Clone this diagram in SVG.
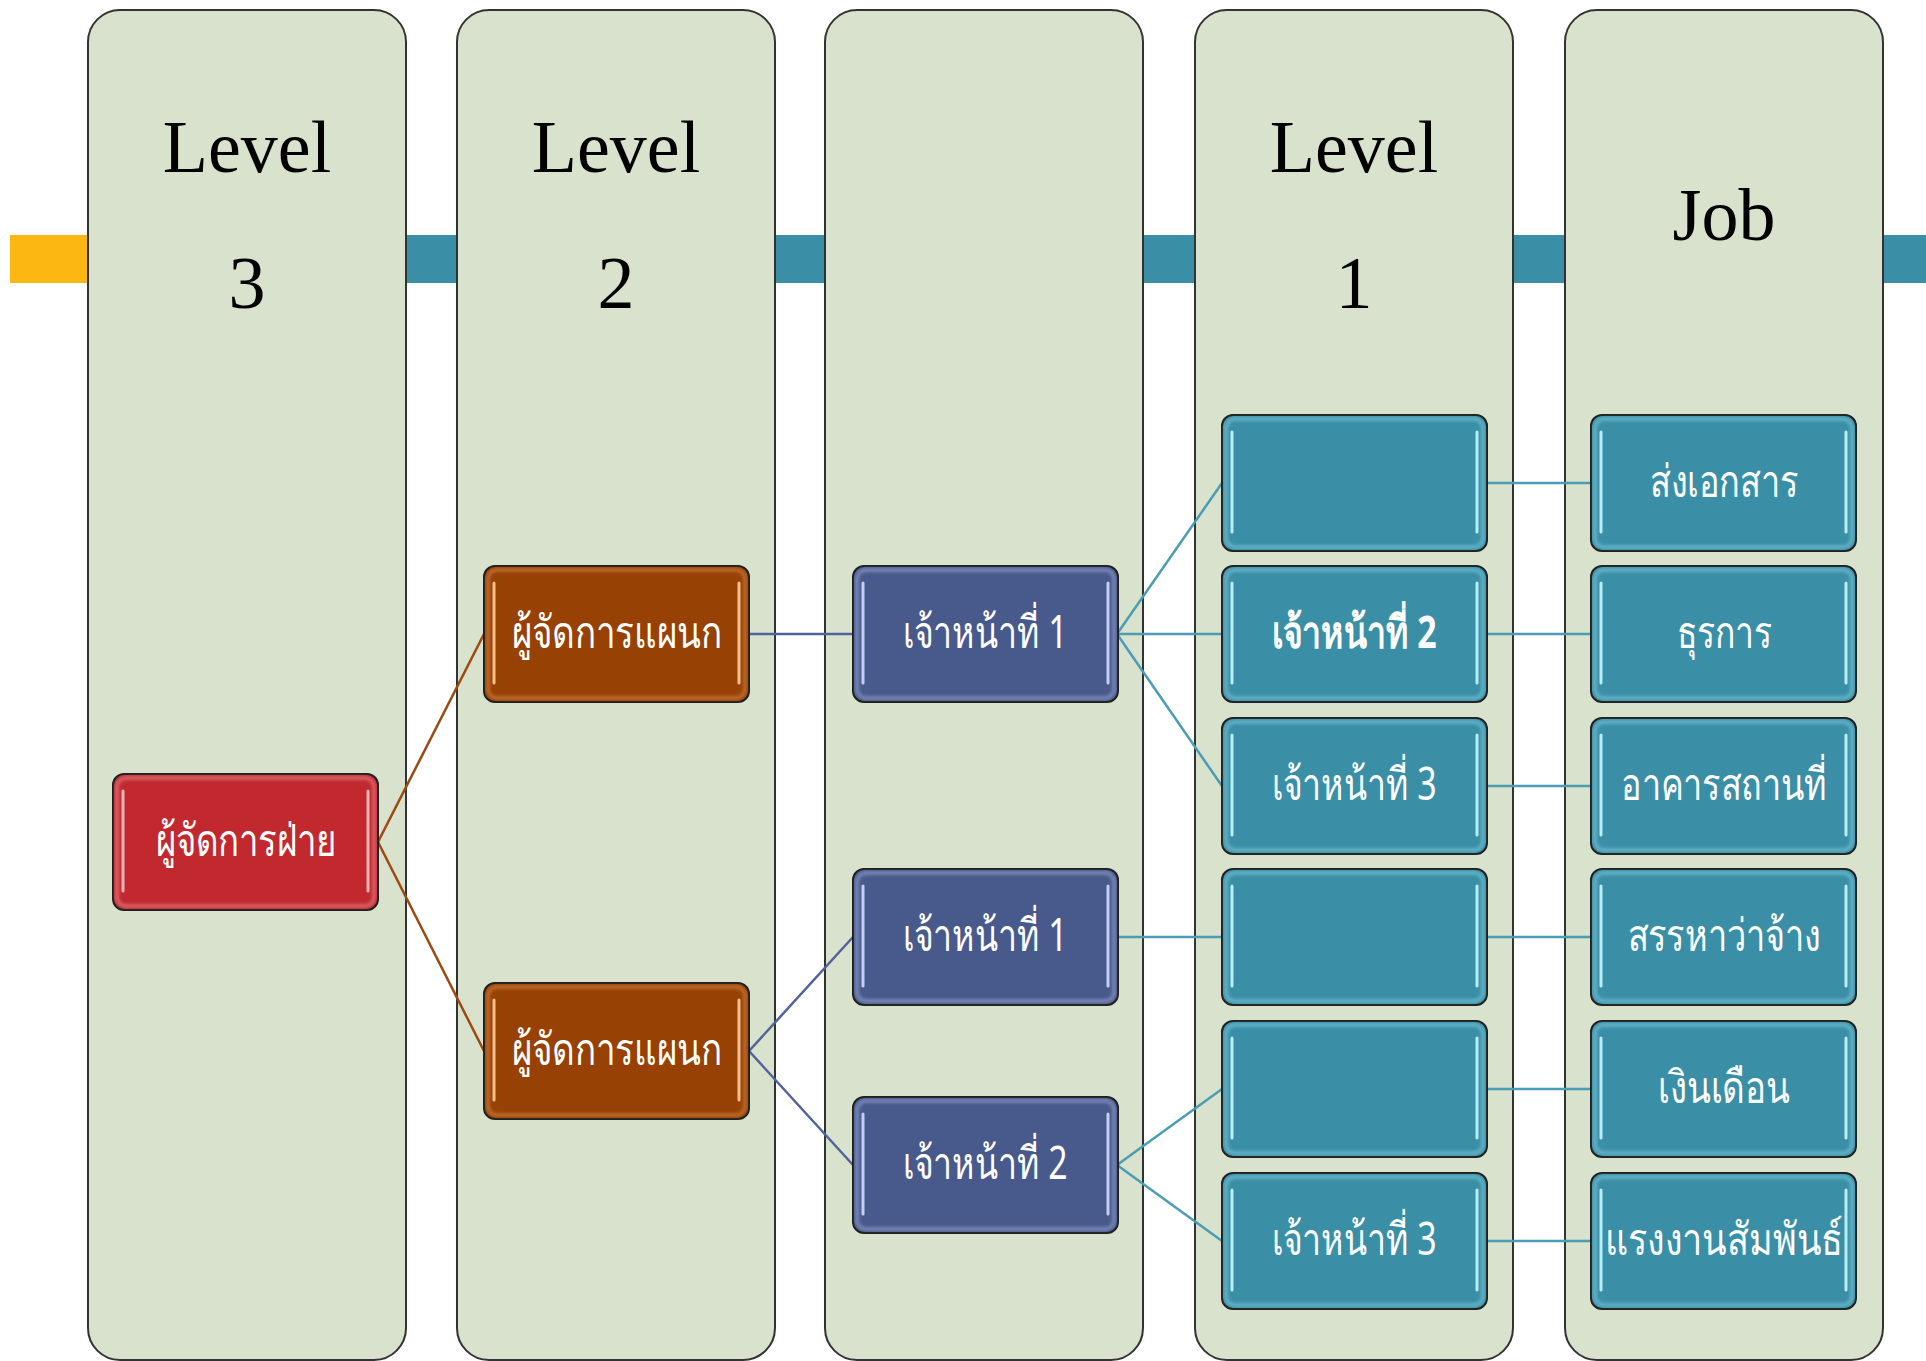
<svg xmlns="http://www.w3.org/2000/svg" width="1926" height="1361" viewBox="0 0 1926 1361">
  <style>
    .col { fill: #D9E2CC; stroke: #333333; stroke-width: 2; }
    .head { font-family: "Liberation Serif", "Times New Roman", serif; font-size: 74px; fill: #000000; text-anchor: middle; }
    .box { fill: var(--bg); stroke: #1E1E1E; stroke-width: 2; }
    .edge { fill: none; stroke: var(--edge); stroke-width: 4; stroke-opacity: 0.45; filter: url(#soft); }
    .shine { fill: none; stroke: var(--shine); stroke-width: 3; stroke-linecap: round; }
    .lbl { font-family: "Noto Sans", "DejaVu Sans", sans-serif; font-size: 45px; fill: #FFFFFF; text-anchor: middle; }
    .red { --bg: #C1292F; --edge: #F3A0A3; --shine: #F7B3B5; }
    .brown { --bg: #974104; --edge: #E89A5C; --shine: #F6C08C; }
    .blue { --bg: #485A8B; --edge: #A9B6E6; --shine: #C4CEF5; }
    .teal { --bg: #3A8FA6; --edge: #8ED8EA; --shine: #B7EEF9; }
    .c-brown { stroke: #9A4A12; } .c-blue { stroke: #52629A; } .c-teal { stroke: #4A9DB3; }
    #connectors line { stroke-width: 2.5; }
  </style>
  <defs>
    <filter id="soft" x="-5%" y="-5%" width="110%" height="110%">
      <feGaussianBlur stdDeviation="1.5"/>
    </filter>
    <!-- glossy rounded box, 265 x 136, drawn at the origin -->
    <g id="shape">
      <rect class="box" x="0" y="0" width="265" height="136" rx="11"/>
      <rect class="edge" x="4" y="4" width="257" height="128" rx="9"/>
      <line class="shine" x1="10" y1="17" x2="10" y2="117"/>
      <line class="shine" x1="255" y1="17" x2="255" y2="117"/>
    </g>
  </defs>

  <!-- horizontal band behind the columns -->
  <g id="band">
    <rect x="10" y="235" width="80" height="48" fill="#FDB713"/>
    <rect x="404" y="235" width="55" height="48" fill="#3A8FA6"/>
    <rect x="773" y="235" width="54" height="48" fill="#3A8FA6"/>
    <rect x="1141" y="235" width="56" height="48" fill="#3A8FA6"/>
    <rect x="1511" y="235" width="56" height="48" fill="#3A8FA6"/>
    <rect x="1881" y="235" width="45" height="48" fill="#3A8FA6"/>
  </g>

  <!-- columns -->
  <g id="col-level3">
    <rect class="col" x="88" y="10" width="318" height="1350" rx="32"/>
    <text class="head" x="247" y="172">Level</text>
    <text class="head" x="247" y="308">3</text>
  </g>
  <g id="col-level2">
    <rect class="col" x="457" y="10" width="318" height="1350" rx="32"/>
    <text class="head" x="616" y="172">Level</text>
    <text class="head" x="616" y="308">2</text>
  </g>
  <g id="col-blank">
    <rect class="col" x="825" y="10" width="318" height="1350" rx="32"/>
  </g>
  <g id="col-level1">
    <rect class="col" x="1195" y="10" width="318" height="1350" rx="32"/>
    <text class="head" x="1354" y="172">Level</text>
    <text class="head" x="1354" y="308">1</text>
  </g>
  <g id="col-job">
    <rect class="col" x="1565" y="10" width="318" height="1350" rx="32"/>
    <text class="head" x="1724" y="240">Job</text>
  </g>

  <!-- connectors -->
  <g id="connectors">
    <line class="c-brown" x1="378" y1="842" x2="484" y2="634"/>
    <line class="c-brown" x1="378" y1="842" x2="484" y2="1051"/>
    <line class="c-blue" x1="749" y1="634" x2="853" y2="634"/>
    <line class="c-blue" x1="749" y1="1051" x2="853" y2="937"/>
    <line class="c-blue" x1="749" y1="1051" x2="853" y2="1165"/>
    <line class="c-teal" x1="1117" y1="634" x2="1222" y2="483"/>
    <line class="c-teal" x1="1117" y1="634" x2="1222" y2="634"/>
    <line class="c-teal" x1="1117" y1="634" x2="1222" y2="786"/>
    <line class="c-teal" x1="1117" y1="937" x2="1222" y2="937"/>
    <line class="c-teal" x1="1117" y1="1165" x2="1222" y2="1089"/>
    <line class="c-teal" x1="1117" y1="1165" x2="1222" y2="1241"/>
    <line class="c-teal" x1="1487" y1="483" x2="1591" y2="483"/>
    <line class="c-teal" x1="1487" y1="634" x2="1591" y2="634"/>
    <line class="c-teal" x1="1487" y1="786" x2="1591" y2="786"/>
    <line class="c-teal" x1="1487" y1="937" x2="1591" y2="937"/>
    <line class="c-teal" x1="1487" y1="1089" x2="1591" y2="1089"/>
    <line class="c-teal" x1="1487" y1="1241" x2="1591" y2="1241"/>
  </g>

  <!-- level 3 -->
  <g id="n-division" class="red">
    <use href="#shape" x="113" y="774"/>
    <text class="lbl" x="246" y="856" textLength="181" lengthAdjust="spacingAndGlyphs">ผู้จัดการฝ่าย</text>
  </g>

  <!-- level 2 -->
  <g id="n-dept-a" class="brown">
    <use href="#shape" x="484" y="566"/>
    <text class="lbl" x="617" y="648" textLength="210" lengthAdjust="spacingAndGlyphs">ผู้จัดการแผนก</text>
  </g>
  <g id="n-dept-b" class="brown">
    <use href="#shape" x="484" y="983"/>
    <text class="lbl" x="617" y="1065" textLength="210" lengthAdjust="spacingAndGlyphs">ผู้จัดการแผนก</text>
  </g>

  <!-- officers under departments -->
  <g id="n-off-a1" class="blue">
    <use href="#shape" x="853" y="566"/>
    <text class="lbl" x="985" y="648" textLength="165" lengthAdjust="spacingAndGlyphs">เจ้าหน้าที่ 1</text>
  </g>
  <g id="n-off-b1" class="blue">
    <use href="#shape" x="853" y="869"/>
    <text class="lbl" x="985" y="951" textLength="165" lengthAdjust="spacingAndGlyphs">เจ้าหน้าที่ 1</text>
  </g>
  <g id="n-off-b2" class="blue">
    <use href="#shape" x="853" y="1097"/>
    <text class="lbl" x="985" y="1179" textLength="165" lengthAdjust="spacingAndGlyphs">เจ้าหน้าที่ 2</text>
  </g>

  <!-- level 1 -->
  <g id="n-l1-1" class="teal">
    <use href="#shape" x="1222" y="415"/>
  </g>
  <g id="n-l1-2" class="teal">
    <use href="#shape" x="1222" y="566"/>
    <text class="lbl" x="1354" y="648" font-weight="bold" textLength="165" lengthAdjust="spacingAndGlyphs">เจ้าหน้าที่ 2</text>
  </g>
  <g id="n-l1-3" class="teal">
    <use href="#shape" x="1222" y="718"/>
    <text class="lbl" x="1354" y="800" textLength="165" lengthAdjust="spacingAndGlyphs">เจ้าหน้าที่ 3</text>
  </g>
  <g id="n-l1-4" class="teal">
    <use href="#shape" x="1222" y="869"/>
  </g>
  <g id="n-l1-5" class="teal">
    <use href="#shape" x="1222" y="1021"/>
  </g>
  <g id="n-l1-6" class="teal">
    <use href="#shape" x="1222" y="1173"/>
    <text class="lbl" x="1354" y="1255" textLength="165" lengthAdjust="spacingAndGlyphs">เจ้าหน้าที่ 3</text>
  </g>

  <!-- jobs -->
  <g id="n-job-1" class="teal">
    <use href="#shape" x="1591" y="415"/>
    <text class="lbl" x="1724" y="497" textLength="148" lengthAdjust="spacingAndGlyphs">ส่งเอกสาร</text>
  </g>
  <g id="n-job-2" class="teal">
    <use href="#shape" x="1591" y="566"/>
    <text class="lbl" x="1724" y="648" textLength="95" lengthAdjust="spacingAndGlyphs">ธุรการ</text>
  </g>
  <g id="n-job-3" class="teal">
    <use href="#shape" x="1591" y="718"/>
    <text class="lbl" x="1724" y="800" textLength="206" lengthAdjust="spacingAndGlyphs">อาคารสถานที่</text>
  </g>
  <g id="n-job-4" class="teal">
    <use href="#shape" x="1591" y="869"/>
    <text class="lbl" x="1724" y="951" textLength="193" lengthAdjust="spacingAndGlyphs">สรรหาว่าจ้าง</text>
  </g>
  <g id="n-job-5" class="teal">
    <use href="#shape" x="1591" y="1021"/>
    <text class="lbl" x="1724" y="1103" textLength="132" lengthAdjust="spacingAndGlyphs">เงินเดือน</text>
  </g>
  <g id="n-job-6" class="teal">
    <use href="#shape" x="1591" y="1173"/>
    <text class="lbl" x="1724" y="1255" textLength="238" lengthAdjust="spacingAndGlyphs">แรงงานสัมพันธ์</text>
  </g>
</svg>
